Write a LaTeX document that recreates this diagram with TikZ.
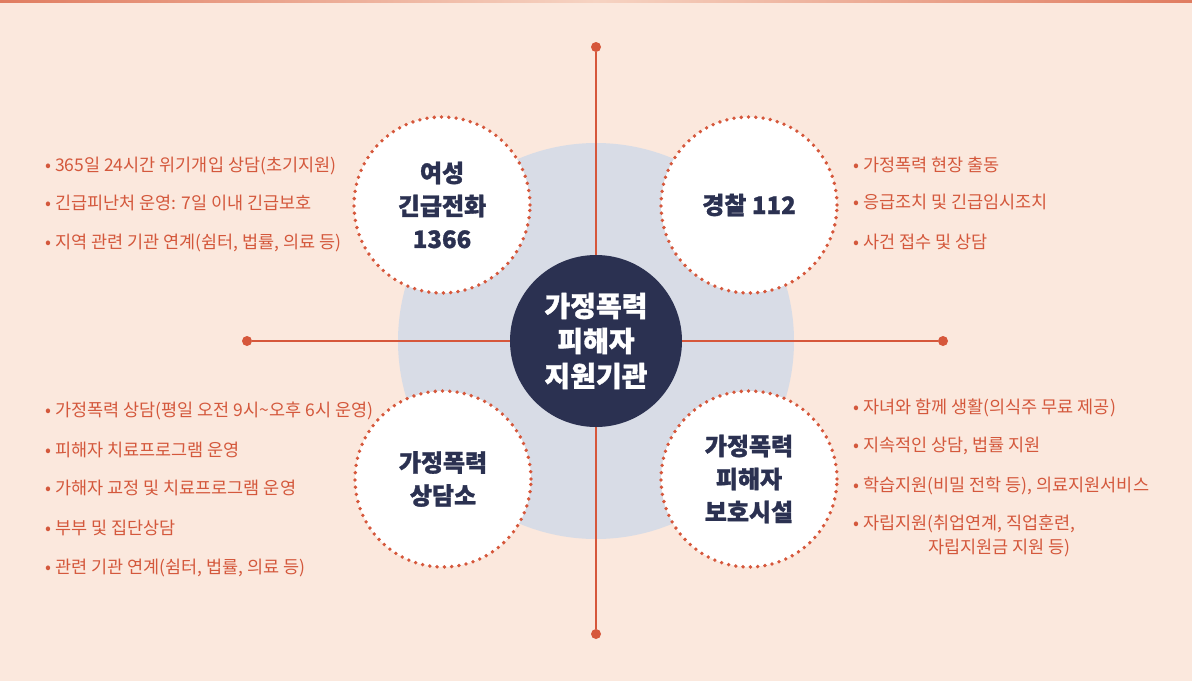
\documentclass[tikz,border=0pt]{standalone}
\usepackage{fontspec}
\setmainfont{Noto Sans CJK KR}
\newfontfamily\heavyfont{Noto Sans CJK KR}[FakeBold=1.2]
\definecolor{bgc}{HTML}{FBE8DD}
\definecolor{topc}{HTML}{E07C60}
\definecolor{toplight}{HTML}{F6D3C2}
\definecolor{halo}{HTML}{D8DCE6}
\definecolor{navy}{HTML}{2B3151}
\definecolor{accent}{HTML}{D6573B}
\definecolor{txtc}{HTML}{D4583C}
\tikzset{
  sub/.style={circle, fill=white, minimum size=176pt, inner sep=0pt, align=center,
    text=navy, font=\fontsize{24}{33}\heavyfont\bfseries},
  subring/.style={draw=accent, line width=3.8pt, dash pattern=on 0pt off 7.3pt, line cap=round},
  hub/.style={circle, fill=navy, minimum size=172pt, inner sep=0pt, align=center,
    text=white, font=\fontsize{28}{35}\heavyfont\bfseries},
  enddot/.style={circle, fill=accent, inner sep=0pt, minimum size=10pt},
  axis/.style={draw=accent, line width=1.4pt},
  item/.style={anchor=base west, inner sep=0pt, text=txtc, font=\fontsize{17.5}{17.5}\selectfont},
}
\begin{document}
\begin{tikzpicture}[x=1pt,y=-1pt]
\useasboundingbox (0,0) rectangle (1192,681);
\fill[bgc] (0,0) rectangle (1192,681);
\shade[left color=topc, right color=topc, middle color=toplight] (0,0) rectangle (1192,2.5);

% halo
\node[circle, fill=halo, minimum size=396pt, inner sep=0pt] (halo) at (596,341) {};

% axes
\node[enddot] (vt) at (596,47) {};
\node[enddot] (vb) at (596,634) {};
\node[enddot] (hl) at (247,341) {};
\node[enddot] (hr) at (943,341) {};
\draw[axis] (vt) -- (vb);
\draw[axis] (hl) -- (hr);

% hub
\node[hub] (hub) at (596,341) {가정폭력\\피해자\\지원기관};

% sub circles
\node[sub] (tl) at (442,205) {여성\\긴급전화\\1366};
\draw[subring] (tl.center) circle[radius=88pt];
\node[sub] (tr) at (749,205) {경찰 112};
\draw[subring] (tr.center) circle[radius=88pt];
\node[sub] (bl) at (443,479) {가정폭력\\상담소};
\draw[subring] (bl.center) circle[radius=88pt];
\node[sub] (br) at (749,479) {가정폭력\\피해자\\보호시설};
\draw[subring] (br.center) circle[radius=88pt];

% top-left list
\node[item] (tl1) at (45,171) {• 365일 24시간 위기개입 상담(초기지원)};
\node[item] (tl2) at (45,209) {• 긴급피난처 운영: 7일 이내 긴급보호};
\node[item] (tl3) at (45,248) {• 지역 관련 기관 연계(쉼터, 법률, 의료 등)};

% top-right list
\node[item] (tr1) at (853,171) {• 가정폭력 현장 출동};
\node[item] (tr2) at (853,208) {• 응급조치 및 긴급임시조치};
\node[item] (tr3) at (853,248) {• 사건 접수 및 상담};

% bottom-left list
\node[item] (bl1) at (45,416) {• 가정폭력 상담(평일 오전 9시\textasciitilde 오후 6시 운영)};
\node[item] (bl2) at (45,456) {• 피해자 치료프로그램 운영};
\node[item] (bl3) at (45,494) {• 가해자 교정 및 치료프로그램 운영};
\node[item] (bl4) at (45,534) {• 부부 및 집단상담};
\node[item] (bl5) at (45,573) {• 관련 기관 연계(쉼터, 법률, 의료 등)};

% bottom-right list
\node[item] (br1) at (853,413) {• 자녀와 함께 생활(의식주 무료 제공)};
\node[item] (br2) at (853,451) {• 지속적인 상담, 법률 지원};
\node[item] (br3) at (853,491) {• 학습지원(비밀 전학 등), 의료지원서비스};
\node[item] (br4) at (853,529) {• 자립지원(취업연계, 직업훈련,};
\node[item] (br5) at (928,553) {자립지원금 지원 등)};
\end{tikzpicture}
\end{document}
